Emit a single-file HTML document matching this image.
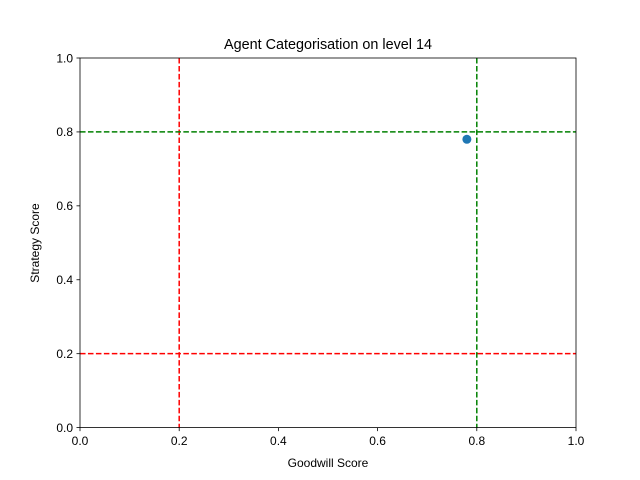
<!DOCTYPE html>
<html><head><meta charset="utf-8"><style>body{margin:0;background:#fff}svg{display:block;font-family:"Liberation Sans","DejaVu Sans",sans-serif}</style></head>
<body>
<svg id="c" width="640" height="480"></svg>
<script>
const xTicks=[0.0,0.2,0.4,0.6,0.8,1.0];
const yTicks=[0.0,0.2,0.4,0.6,0.8,1.0];
const tickLabels=["0.0","0.2","0.4","0.6","0.8","1.0"];
const pointsX=[0.78];
const pointsY=[0.78];
const redLinesV=[0.2];
const redLinesH=[0.2];
const greenLinesV=[0.8];
const greenLinesH=[0.8];
const L=80,R=576,T=58,B=427.6;
const sx=v=>L+v*(R-L), sy=v=>B-v*(B-T);
const svg=document.getElementById('c');
const NS='http://www.w3.org/2000/svg';
function mk(t,a,txt){const e=document.createElementNS(NS,t);for(const k in a)e.setAttribute(k,a[k]);if(txt!==undefined)e.textContent=txt;svg.appendChild(e);return e;}
let e;
e=mk('rect',{x:0,y:0,width:640,height:480,fill:'#fff'});


function dline(x1,y1,x2,y2,col,name){e=mk('line',{x1,y1,x2,y2,stroke:col,'stroke-width':1.5,'stroke-dasharray':'5.55 2.4'});

}
redLinesV.forEach(v=>dline(sx(v),T,sx(v),B,'#ff0000','red-vertical-line'));
redLinesH.forEach(v=>dline(L,sy(v),R,sy(v),'#ff0000','red-horizontal-line'));
greenLinesV.forEach(v=>dline(sx(v),T,sx(v),B,'#008000','green-vertical-line'));
greenLinesH.forEach(v=>dline(L,sy(v),R,sy(v),'#008000','green-horizontal-line'));
pointsX.forEach((v,i)=>{e=mk('circle',{cx:sx(v),cy:sy(pointsY[i]),r:4.5,fill:'#1f77b4'});

});
e=mk('rect',{x:L,y:T,width:R-L,height:B-T,fill:'none',stroke:'#000','stroke-width':0.8});


xTicks.forEach((v,i)=>{const x=sx(v);
e=mk('line',{x1:x,y1:B,x2:x,y2:B+3.5,stroke:'#000','stroke-width':0.8});


e=mk('text',{x:x,y:B+17.5,'font-size':'12','text-anchor':'middle'},tickLabels[i]);

});
yTicks.forEach((v,i)=>{const y=sy(v);
e=mk('line',{x1:L-3.5,y1:y,x2:L,y2:y,stroke:'#000','stroke-width':0.8});


e=mk('text',{x:L-7,y:y+4.3,'font-size':'12','text-anchor':'end'},tickLabels[i]);

});
e=mk('text',{x:328,y:467,'font-size':'12','text-anchor':'middle'},'Goodwill Score');


e=mk('text',{x:0,y:0,'font-size':'12','text-anchor':'middle',transform:'translate(39,243) rotate(-90)'},'Strategy Score');


e=mk('text',{x:328,y:49,'font-size':'14.4','text-anchor':'middle'},'Agent Categorisation on level 14');


</script>
</body></html>
